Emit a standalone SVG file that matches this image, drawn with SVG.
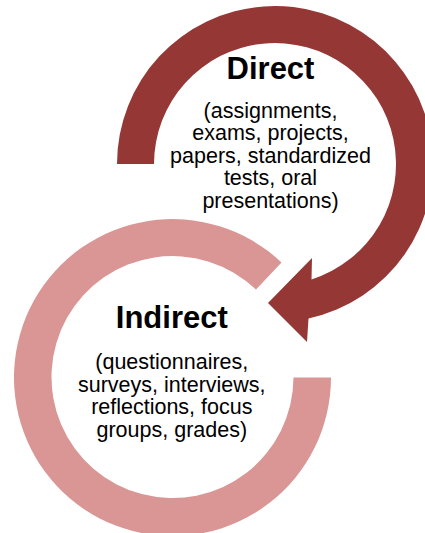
<svg xmlns="http://www.w3.org/2000/svg" width="425" height="533" viewBox="0 0 425 533">
  <style>
    .title { font-family: "Liberation Sans", Arial, sans-serif; font-weight: bold; font-size: 31px; fill: #000; text-anchor: middle; }
    .body { font-family: "Liberation Sans", Arial, sans-serif; font-size: 21.5px; fill: #000; text-anchor: middle; }
    .dark { fill: #953735; }
    .pink { fill: #D99694; }
  </style>
  <rect width="425" height="533" fill="#fff"/>
  <g id="connectors">
    <path id="indirect-ring" class="pink" d="M 331,377.5 A 158.5 158.5 0 1 1 281.5,262.5 L 256,289.5 A 121 121 0 1 0 293.5,377.5 Z"/>
    <path id="direct-arrow" class="dark" d="M 117,164 A 158 158 0 1 1 308.5,318.4 L 307,342 L 268,303 L 312,258 L 311.5,279.4 A 121 121 0 1 0 154,164 Z"/>
  </g>
  <g id="direct">
    <text class="title" x="270.5" y="79">Direct</text>
    <text class="body" x="270.5" y="117.7">(assignments,</text>
    <text class="body" x="270.5" y="140.2">exams, projects,</text>
    <text class="body" x="270.5" y="162.7">papers, standardized</text>
    <text class="body" x="270.5" y="185.2">tests, oral</text>
    <text class="body" x="270.5" y="207.7">presentations)</text>
  </g>
  <g id="indirect">
    <text class="title" x="171.8" y="328">Indirect</text>
    <text class="body" x="171.8" y="369">(questionnaires,</text>
    <text class="body" x="171.8" y="391.5">surveys, interviews,</text>
    <text class="body" x="171.8" y="414">reflections, focus</text>
    <text class="body" x="171.8" y="436.5">groups, grades)</text>
  </g>
</svg>
